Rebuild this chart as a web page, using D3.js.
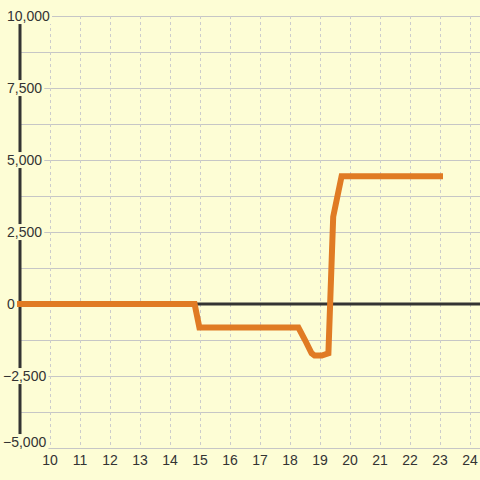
<!DOCTYPE html>
<html>
<head>
<meta charset="utf-8">
<title>Chart</title>
<style>
  body { margin: 0; background: #fdfdd5; }
  svg { display: block; background: #fdfdd5; }
  .lbl { font-family: "Liberation Sans", Arial, sans-serif; font-size: 14px; fill: #333; }
</style>
</head>
<body>
<svg width="480" height="480"></svg>
<script src="https://d3js.org/d3.v7.min.js"></script>
<script>
// data
var xValues = [9, 14.82, 14.98, 18.28, 18.5, 18.72, 18.82, 19.06, 19.28, 19.44, 19.72, 23];
var yValues = [0, 0, -820, -820, -1250, -1710, -1790, -1790, -1710, 3030, 4440, 4440];
var xTicks = [10, 11, 12, 13, 14, 15, 16, 17, 18, 19, 20, 21, 22, 23, 24];
var yTicks = [-5000, -2500, 0, 2500, 5000, 7500, 10000];
var yGrid = d3.range(-5000, 10001, 1250);

var svg = d3.select("svg"),
    width = +svg.attr("width"),
    height = +svg.attr("height");

var bg = "#fdfdd5";

// scales
var x = d3.scaleLinear().domain([9, 9 + 460 / 30]).range([20, 480]);
var y = d3.scaleLinear().domain([-5000, 10000]).range([448, 16]);

// grid
svg.append("g").selectAll("line")
    .data(yGrid)
    .enter().append("line")
    .attr("x1", x(9)).attr("x2", width)
    .attr("y1", function(d) { return y(d); })
    .attr("y2", function(d) { return y(d); })
    .attr("stroke", "#c6c6c6")
    .attr("stroke-width", 1)
    .attr("shape-rendering", "crispEdges");

svg.append("g").selectAll("line")
    .data(xTicks)
    .enter().append("line")
    .attr("x1", function(d) { return Math.round(x(d)) + 0.5; })
    .attr("x2", function(d) { return Math.round(x(d)) + 0.5; })
    .attr("y1", y(10000)).attr("y2", y(-5000))
    .attr("stroke", "#cccccc")
    .attr("stroke-width", 1)
    .attr("stroke-dasharray", "3,3");

// axes lines
svg.append("line")
    .attr("x1", x(9)).attr("x2", width)
    .attr("y1", y(0)).attr("y2", y(0))
    .attr("stroke", "#333").attr("stroke-width", 3);
svg.append("line")
    .attr("x1", x(9)).attr("x2", x(9))
    .attr("y1", y(10000)).attr("y2", y(-5000))
    .attr("stroke", "#333").attr("stroke-width", 3);

// the series
var line = d3.line()
    .x(function(d) { return x(d[0]); })
    .y(function(d) { return y(d[1]); });
svg.append("path")
    .datum(d3.zip(xValues, yValues))
    .attr("d", line)
    .attr("fill", "none")
    .attr("stroke", "#e07b24")
    .attr("stroke-width", 6)
    .attr("stroke-linecap", "square");

// x labels
svg.append("g").selectAll("text")
    .data(xTicks)
    .enter().append("text")
    .attr("class", "lbl")
    .attr("x", function(d) { return x(d); })
    .attr("y", 460)
    .attr("dy", "0.36em")
    .attr("text-anchor", "middle")
    .text(function(d) { return d; });

// y labels with background boxes
var fmt = d3.format(",");
var yl = svg.append("g").selectAll("g")
    .data(yTicks)
    .enter().append("g");
yl.append("text")
    .attr("class", "lbl")
    .attr("x", function(d) { return d < 0 ? 3 : 7; })
    .attr("y", function(d) { return d == -5000 ? y(d) - 6 : y(d); })
    .attr("dy", "0.36em")
    .text(function(d) { return fmt(d); });
yl.each(function() {
    var g = d3.select(this);
    var b = g.select("text").node().getBBox();
    g.insert("rect", "text")
        .attr("x", 0)
        .attr("y", b.y)
        .attr("width", b.x + b.width + 2)
        .attr("height", b.height)
        .attr("fill", bg);
});
</script>
</body>
</html>
